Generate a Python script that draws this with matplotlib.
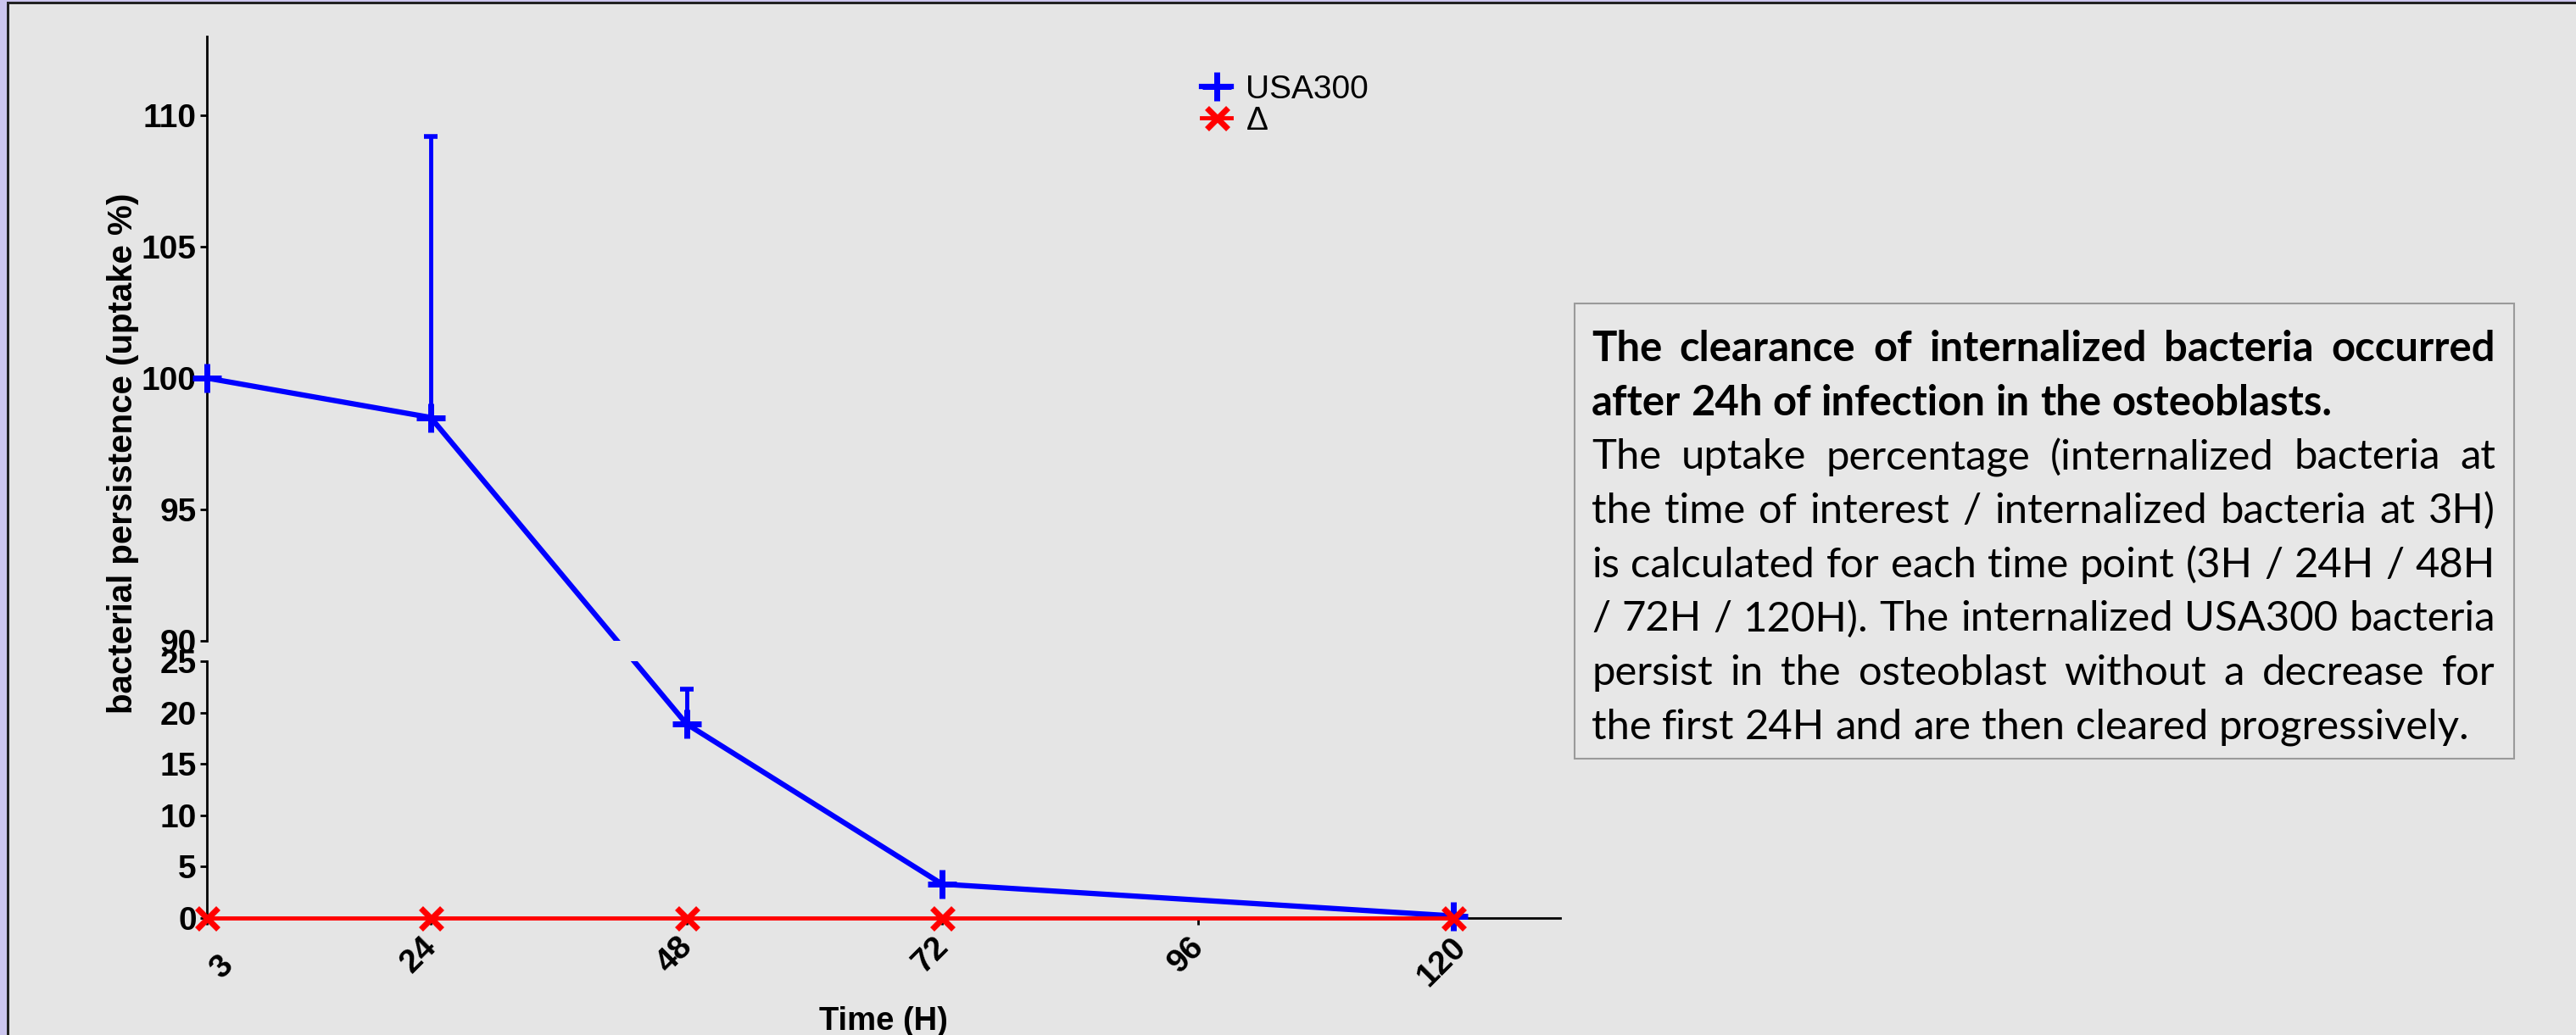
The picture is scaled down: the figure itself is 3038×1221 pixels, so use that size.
import numpy as np
import matplotlib.pyplot as plt
from matplotlib.patches import Rectangle
from matplotlib.lines import Line2D
from matplotlib.transforms import ScaledTranslation

plt.rcParams['font.family'] = ['Liberation Sans', 'DejaVu Sans']

# data
hours = [3, 24, 48, 72, 120]
usa300 = [100.0, 98.5, 18.9, 3.3, 0.2]
usa300_up = [0.0, 10.7, 3.4, 0.0, 0.0]   # upper error bar only
delta = [0, 0, 0, 0, 0]
xticks = [3, 24, 48, 72, 96, 120]
upper_ticks = [90, 95, 100, 105, 110]
lower_ticks = [0, 5, 10, 15, 20, 25]
series_names = ['USA300', 'Δ']

title_lines = ['The clearance of internalized bacteria occurred',
               'after 24h of infection in the osteoblasts.']
body_lines = ['The uptake percentage (internalized bacteria at',
              'the time of interest / internalized bacteria at 3H)',
              'is calculated for each time point (3H / 24H / 48H',
              '/ 72H / 120H). The internalized USA300 bacteria',
              'persist in the osteoblast without a decrease for',
              'the first 24H and are then cleared progressively.']

BG = '#e5e5e5'
W, H = 3038, 1221
fig = plt.figure(figsize=(W / 100, H / 100), dpi=100, facecolor=BG)


def box(x0, y0, x1, y1):
    # pixel box (top-left origin) -> figure fraction rect
    return [x0 / W, 1 - y1 / H, (x1 - x0) / W, (y1 - y0) / H]


# frame of the slide (lavender strip + dark line)
fig.add_artist(Rectangle((0, 0), 8 / W, 1, transform=fig.transFigure, fc='#ccc6ee', ec='none'))
fig.add_artist(Rectangle((0, 1 - 2 / H), 1, 2 / H, transform=fig.transFigure, fc='#ccc6ee', ec='none'))
fig.add_artist(Rectangle((8 / W, 0), 3 / W, 1 - 2 / H, transform=fig.transFigure, fc='#222222', ec='none'))
fig.add_artist(Rectangle((8 / W, 1 - 5 / H), 1, 3 / H, transform=fig.transFigure, fc='#222222', ec='none'))

ax_up = fig.add_axes(box(244, 43, 1840, 756))
ax_lo = fig.add_axes(box(244, 780, 1840, 1083))
ax_up.set_ylim(90, 113)
ax_lo.set_ylim(0, 25)

BLUE_LW, PLUS_MS, PLUS_MEW = 4.5, 24, 5
for ax in (ax_up, ax_lo):
    ax.set_facecolor('none')
    ax.set_xlim(3, 130)
    for s in ['top', 'right']:
        ax.spines[s].set_visible(False)
    ax.spines['left'].set_linewidth(2)
    ax.spines['bottom'].set_linewidth(2)
    ax.tick_params(axis='y', direction='out', length=5.8, width=2, pad=3)

    ax.errorbar(hours, usa300, yerr=[np.zeros(len(hours)), usa300_up], fmt='none',
                ecolor='blue', elinewidth=3.5, capsize=6, capthick=4, zorder=2)
    lo, hi = ax.get_ylim()
    xs = [h for h, v in zip(hours, usa300) if lo <= v <= hi]
    ys = [v for v in usa300 if lo <= v <= hi]
    ax.plot(xs, ys, ls='none', marker='+', ms=PLUS_MS, mew=PLUS_MEW, color='blue',
            clip_on=False, zorder=4)

ax_up.spines['bottom'].set_visible(False)
ax_up.set_xticks([])
ax_up.set_yticks(upper_ticks)
ax_up.set_yticklabels(upper_ticks, fontweight='bold', fontsize=28)
ax_lo.set_yticks(lower_ticks)
ax_lo.set_yticklabels(lower_ticks, fontweight='bold', fontsize=28)

ax_lo.plot(hours, delta, color='red', lw=3.5, marker='x', ms=18, mew=5,
           clip_on=False, zorder=5)

# the USA300 line is straight on screen across the axis break,
# so it is drawn in figure space and clipped to each panel
to_fig = fig.transFigure.inverted()
pts = np.array([to_fig.transform((ax_up if v >= ax_up.get_ylim()[0] else ax_lo)
                                 .transData.transform((h, v)))
                for h, v in zip(hours, usa300)])
for ax in (ax_up, ax_lo):
    ln = Line2D(pts[:, 0], pts[:, 1], transform=fig.transFigure, color='blue',
                lw=BLUE_LW, zorder=-1)
    ln.set_clip_box(ax.bbox)
    fig.add_artist(ln)

ax_lo.set_xticks(xticks)
ax_lo.set_xticklabels(xticks, rotation=45, ha='center', va='top',
                      fontweight='bold', fontsize=28)
ax_lo.tick_params(axis='x', direction='out', length=5.5, width=2, pad=6)
for i, t in enumerate(ax_lo.get_xticklabels()):
    dx, dy = (-14, 0) if i else (18, -22)   # first label sits right of its tick
    t.set_transform(t.get_transform() + ScaledTranslation(dx / 100, dy / 100, fig.dpi_scale_trans))

fig.text(145 / W, 1 - 535 / H, 'bacterial persistence (uptake %)', rotation=90,
         ha='center', va='center', fontsize=29, fontweight='bold')
fig.text(1042 / W, 1 - 1205 / H, 'Time (H)', ha='center', va='center',
         fontsize=27.5, fontweight='bold')

handles = [Line2D([], [], color='blue', lw=BLUE_LW, marker='+', ms=PLUS_MS, mew=PLUS_MEW),
           Line2D([], [], color='red', lw=3.5, marker='x', ms=18, mew=5)]
fig.legend(handles, series_names, loc='upper left',
           bbox_to_anchor=(1417 / W, 1 - 88 / H), frameon=False, fontsize=28,
           handlelength=0.9, handletextpad=0.45, labelspacing=0.02,
           borderpad=0, borderaxespad=0)

# text box with justified text
fig.add_artist(Rectangle((1857 / W, 1 - 895 / H), (2965 - 1857) / W, (895 - 358) / H,
                         transform=fig.transFigure, fc='#e7e7e7', ec='#9a9a9a', lw=1.5))

renderer = fig.canvas.get_renderer()


def width_of(s, size, weight):
    t = fig.text(0, 0, s, fontsize=size, fontweight=weight, family='Lato')
    w = t.get_window_extent(renderer).width
    t.remove()
    return w


def natural(line, size, weight):
    words = line.split(' ')
    sp = width_of('a a', size, weight) - width_of('aa', size, weight)
    return sum(width_of(w, size, weight) for w in words) + sp * (len(words) - 1)


txt_left, txt_right = 1877, 2943
size = 30 * 1035 / natural(body_lines[-1], 30, 'normal')

lines = [(l, 'bold') for l in title_lines] + [(l, 'normal') for l in body_lines]
last = {1, len(lines) - 1}
for i, (line, weight) in enumerate(lines):
    words = line.split(' ')
    ws = [width_of(w, size, weight) for w in words]
    if i in last:
        gap = width_of('a a', size, weight) - width_of('aa', size, weight)
    else:
        gap = (txt_right - txt_left - sum(ws)) / (len(words) - 1)
    x = txt_left
    y = 426 + i * 63.7
    for w, wd in zip(words, ws):
        fig.text(x / W, 1 - y / H, w, fontsize=size, fontweight=weight,
                 family='Lato', ha='left', va='baseline')
        x += wd + gap

fig.savefig('out.png', dpi=100, facecolor=BG)
